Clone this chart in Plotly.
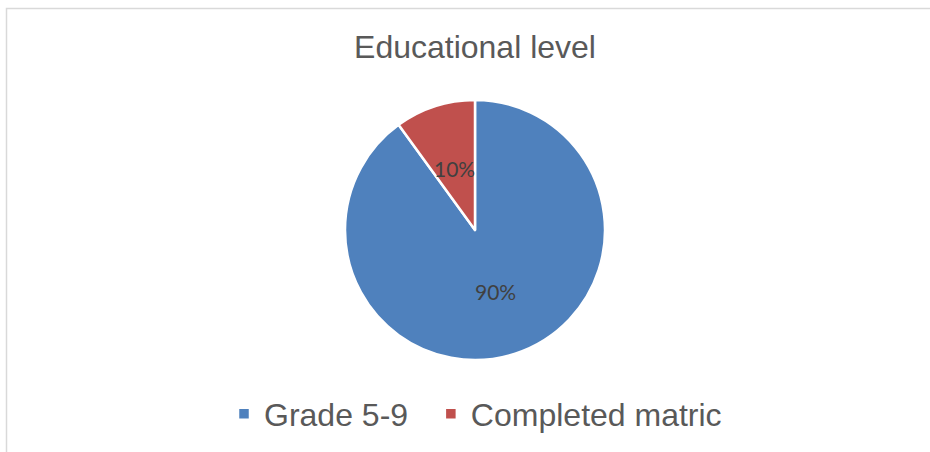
import math
import plotly.graph_objects as go

categories = ["Grade 5-9", "Completed matric"]
values = [90, 10]
colors = ["#4F81BD", "#C0504D"]
title_text = "Educational level"

W, H = 930, 452
# pie placement (pixels)
CX, CY, R = 475, 230, 130
dom_x = [(CX - R) / W, (CX + R) / W]
dom_y = [1 - (CY + R) / H, 1 - (CY - R) / H]

# legend entries: pad all but the last with non-breaking spaces for wider item spacing
legend_labels = [c + ("\u00a0\u00a0" if i < len(categories) - 1 else "") for i, c in enumerate(categories)]

fig = go.Figure(go.Pie(
    labels=legend_labels,
    values=values,
    customdata=categories,
    sort=False,
    direction="clockwise",
    rotation=0,
    marker=dict(colors=colors, line=dict(color="white", width=2.5)),
    textinfo="none",
    domain=dict(x=dom_x, y=dom_y),
    hovertemplate="%{customdata}: %{percent}<extra></extra>",
))

# data labels placed at the slice mid-angles (computed from the values)
total = sum(values)
annotations = []
cum = 0
for v in values:
    mid = (cum + v / 2) / total * 2 * math.pi
    cum += v
    px = CX + 0.5 * R * math.sin(mid)
    py = CY - 0.5 * R * math.cos(mid)
    annotations.append(dict(
        x=px / W, y=1 - py / H, xref="paper", yref="paper",
        text=f"{round(100 * v / total)}%", showarrow=False,
        xanchor="center", yanchor="middle",
        font=dict(family="Lato, Open Sans, sans-serif", size=21, color="#404040"),
    ))

fig.update_layout(
    width=W, height=H,
    margin=dict(l=0, r=0, t=0, b=0),
    paper_bgcolor="white",
    plot_bgcolor="white",
    title=dict(text=title_text, x=CX / W, xanchor="center", y=1 - 47 / H, yanchor="middle",
               font=dict(family="Liberation Sans, Arial, sans-serif", size=32, color="#595959")),
    showlegend=True,
    legend=dict(orientation="h", x=224 / W, xanchor="left", y=1 - 414 / H, yanchor="middle",
                font=dict(family="Liberation Sans, Arial, sans-serif", size=32, color="#595959"),
                itemwidth=30, traceorder="normal"),
    annotations=annotations,
    shapes=[dict(type="rect", xref="paper", yref="paper", x0=6.5 / W, x1=1.05, y0=-0.05, y1=1 - 8.5 / H,
                 line=dict(color="#D9D9D9", width=1.5), fillcolor="rgba(0,0,0,0)", layer="below")],
)

fig.write_html("out.html", config={"displayModeBar": False},
               post_script="document.body.style.margin='0';document.body.style.padding='0';")
